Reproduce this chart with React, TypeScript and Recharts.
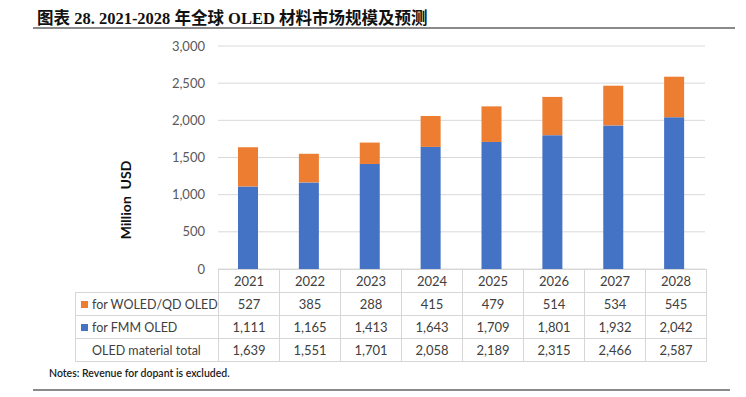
import React from 'react';
import { BarChart, Bar, XAxis, YAxis, CartesianGrid } from 'recharts';

const years = ['2021', '2022', '2023', '2024', '2025', '2026', '2027', '2028'];
const woledValues = [527, 385, 288, 415, 479, 514, 534, 545];
const fmmValues = [1111, 1165, 1413, 1643, 1709, 1801, 1932, 2042];
const totalValues = [1639, 1551, 1701, 2058, 2189, 2315, 2466, 2587];
const yTicks = [0, 500, 1000, 1500, 2000, 2500, 3000];

const ORANGE = '#ED7D31';
const BLUE = '#4472C4';
const BORDER = '#d6d6d6';
const TEXT = '#404040';

const data = years.map((y, i) => ({ year: y, fmm: fmmValues[i], woled: woledValues[i] }));

const fmt = (v: number) => v.toLocaleString('en-US');

const cell: React.CSSProperties = {
  border: `1px solid ${BORDER}`,
  textAlign: 'center',
  padding: 0,
  height: 22,
  fontSize: 13,
  color: TEXT,
};

const legendCell: React.CSSProperties = {
  ...cell,
  textAlign: 'left',
  paddingLeft: 5,
  fontSize: 12.5,
  whiteSpace: 'nowrap',
};

const marker = (color: string) => (
  <span style={{ display: 'inline-block', width: 7, height: 7, background: color, marginRight: 4, verticalAlign: 'middle', position: 'relative', top: -1 }} />
);

const rows = [
  { label: 'for WOLED/QD OLED', color: ORANGE, values: woledValues },
  { label: 'for FMM OLED', color: BLUE, values: fmmValues },
  { label: 'OLED material total', color: 'transparent', values: totalValues },
];

export default function App() {
  return (
    <div style={{ position: 'absolute', left: 0, top: 0, width: 746, height: 397, background: '#fff', overflow: 'hidden', fontFamily: 'Lato, "Open Sans", sans-serif' }}>
      <div style={{ position: 'absolute', left: 37, top: 5, fontFamily: '"Liberation Serif", "Noto Sans CJK SC", serif', fontWeight: 'bold', fontSize: 16.5, color: '#111', whiteSpace: 'nowrap' }}>
        图表 28. 2021-2028 年全球 OLED 材料市场规模及预测
      </div>
      <div style={{ position: 'absolute', left: 33, top: 27, width: 702, height: 2, background: '#8a8a8a' }} />

      <BarChart
        width={746}
        height={397}
        data={data}
        margin={{ top: 46, right: 41, bottom: 128, left: 158 }}
        barSize={20}
        style={{ position: 'absolute', left: 0, top: 0 }}
      >
        <CartesianGrid horizontal vertical={false} stroke="#d9d9d9" />
        <XAxis dataKey="year" hide />
        <YAxis
          width={60}
          domain={[0, 3000]}
          ticks={yTicks}
          tickFormatter={fmt}
          axisLine={false}
          tickLine={false}
          tickMargin={7}
          tick={{ fontSize: 13, fill: '#595959', fontFamily: 'Lato, sans-serif' }}
          interval={0}
        />
        <Bar dataKey="fmm" stackId="a" fill={BLUE} isAnimationActive={false} />
        <Bar dataKey="woled" stackId="a" fill={ORANGE} isAnimationActive={false} />
      </BarChart>

      <div style={{ position: 'absolute', left: 125, top: 200, transform: 'translate(-50%, -50%) rotate(-90deg)', fontWeight: 'bold', fontSize: 14, color: '#111', whiteSpace: 'nowrap' }}>
        Million&nbsp; USD
      </div>

      <table style={{ position: 'absolute', left: 75, top: 269, width: 631, borderCollapse: 'collapse', tableLayout: 'fixed' }}>
        <colgroup>
          <col style={{ width: 143 }} />
          {years.map((y) => (
            <col key={y} style={{ width: 61 }} />
          ))}
        </colgroup>
        <tbody>
          <tr>
            <td style={{ ...cell, borderTop: 'none', borderLeft: 'none' }} />
            {years.map((y) => (
              <td key={y} style={cell}>{y}</td>
            ))}
          </tr>
          {rows.map((r) => (
            <tr key={r.label}>
              <td style={legendCell}>
                {marker(r.color)}
                {r.label}
              </td>
              {r.values.map((v, i) => (
                <td key={i} style={cell}>{fmt(v)}</td>
              ))}
            </tr>
          ))}
        </tbody>
      </table>

      <div style={{ position: 'absolute', left: 49, top: 367, fontSize: 10.5, fontWeight: 600, color: '#1a1a1a', whiteSpace: 'nowrap' }}>
        Notes: Revenue for dopant is excluded.
      </div>
      <div style={{ position: 'absolute', left: 33, top: 389, width: 697, height: 2, background: '#8a8a8a' }} />
    </div>
  );
}
